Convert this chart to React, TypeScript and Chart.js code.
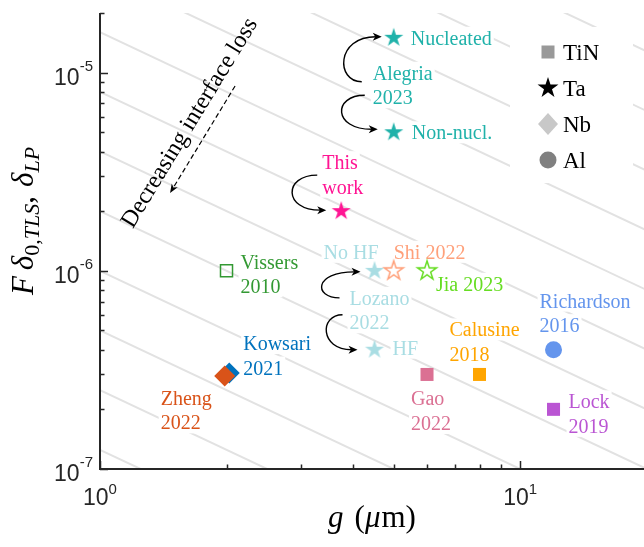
import { useEffect, useRef } from 'react';
import { Chart, registerables } from 'chart.js';

Chart.register(...registerables);

// ---------------- data ----------------
const pointNames = [
  'Nucleated', 'Non-nucl.', 'This work', 'No HF', 'HF', 'Shi 2022', 'Jia 2023',
  'Vissers 2010', 'Kowsari 2021', 'Zheng 2022', 'Gao 2022', 'Calusine 2018',
  'Richardson 2016', 'Lock 2019',
];
const gMicrons = [5, 5, 3.75, 4.5, 4.5, 5, 6, 2, 2.03, 1.98, 6, 8, 12, 12];
const lossValues = [1.5e-5, 5e-6, 2e-6, 1e-6, 4e-7, 1e-6, 1e-6, 1e-6, 3.05e-7, 2.95e-7, 3e-7, 3e-7, 4e-7, 2e-7];
const materials = ['Ta', 'Ta', 'Ta', 'Ta', 'Ta', 'Ta', 'Ta', 'TiN', 'Nb', 'Nb', 'TiN', 'TiN', 'Al', 'TiN'];
const hollowMarkers = [false, false, false, false, false, true, true, true, false, false, false, false, false, false];
const legendMaterials = ['TiN', 'Ta', 'Nb', 'Al'];
const guideLevels = [1.25e-7, 2.5e-7, 5e-7, 1e-6, 2e-6, 4e-6, 8e-6, 1.6e-5, 3.2e-5, 6.4e-5, 1.28e-4, 2.56e-4];
const xTickValues = [1, 10];
const xTickExponents = ['0', '1'];
const yTickValues = [1e-7, 1e-6, 1e-5];
const yTickExponents = ['-7', '-6', '-5'];
const X_MIN = 1;
const X_MAX = 19.7;
const Y_MIN = 1e-7;
const Y_MAX = 2e-5;

const trendText = 'Decreasing interface loss';
const trendFrom = { g: 2.096, v: 8.56e-6 };
const trendTo = { g: 1.468, v: 2.47e-6 };
const trendTextAt = { g: 1.637, v: 5.57e-6 };

// ---------------- styles / layout ----------------
const SERIF = '"Liberation Serif", "Times New Roman", serif';
const SANS = '"Liberation Sans", Arial, sans-serif';
const pointColors = [
  '#20b2aa', '#20b2aa', '#ff1493', '#a9dde3', '#a9dde3', '#ffa07a', '#66dd22',
  '#339933', '#0072bd', '#d95319', '#db7093', '#ffa500', '#6495ed', '#ba55d3',
];
const legendColors: Record<string, string> = { TiN: '#999999', Ta: '#000000', Nb: '#c8c8c8', Al: '#808080' };

const textLabels = [
  { at: 0, lines: ['Nucleated'], dx: 17, dy: 0, color: '#20b2aa' },
  { at: 1, lines: ['Non-nucl.'], dx: 18, dy: 0, color: '#20b2aa' },
  { at: 0, lines: ['Alegria', '2023'], dx: -21, dy: 35, color: '#20b2aa' },
  { at: 2, lines: ['This', 'work'], dx: -19, dy: -49, color: '#ff1493' },
  { at: 3, lines: ['No HF'], dx: -51, dy: -19, color: '#a9dde3' },
  { at: 4, lines: ['HF'], dx: 18, dy: -2, color: '#a9dde3' },
  { at: 3, lines: ['Lozano', '2022'], dx: -25, dy: 27, color: '#a9dde3' },
  { at: 5, lines: ['Shi 2022'], dx: 0, dy: -19, color: '#ffa07a' },
  { at: 6, lines: ['Jia 2023'], dx: 9, dy: 13, color: '#66dd22' },
  { at: 7, lines: ['Vissers', '2010'], dx: 14, dy: -9, color: '#339933' },
  { at: 8, lines: ['Kowsari', '2021'], dx: 14, dy: -30, color: '#0072bd' },
  { at: 9, lines: ['Zheng', '2022'], dx: -64, dy: 22, color: '#d95319' },
  { at: 10, lines: ['Gao', '2022'], dx: -16, dy: 24, color: '#db7093' },
  { at: 11, lines: ['Calusine', '2018'], dx: -30, dy: -45, color: '#ffa500' },
  { at: 12, lines: ['Richardson', '2016'], dx: -14, dy: -49, color: '#6495ed' },
  { at: 13, lines: ['Lock', '2019'], dx: 15, dy: -8, color: '#ba55d3' },
];

const curvedArrows = [
  { to: 0, from: [-32, 44], tip: [-12, -1], bulge: 26 },
  { to: 1, from: [-29, -37], tip: [-16, -3], bulge: 32 },
  { to: 2, from: [-24, -36], tip: [-15, -1], bulge: 34 },
  { to: 3, from: [-35, 27], tip: [-14, 1], bulge: 26 },
  { to: 4, from: [-32, -35], tip: [-17, 0], bulge: 23 },
];

// ---------------- helpers ----------------
function tracePentagram(g: CanvasRenderingContext2D, cx: number, cy: number, R: number) {
  g.beginPath();
  for (let i = 0; i < 10; i++) {
    const r = i % 2 === 0 ? R : R * 0.382;
    const a = -Math.PI / 2 + (i * Math.PI) / 5;
    const x = cx + r * Math.cos(a);
    const y = cy + r * Math.sin(a);
    if (i === 0) g.moveTo(x, y);
    else g.lineTo(x, y);
  }
  g.closePath();
}

function makeStar(color: string, filled: boolean, R: number) {
  const size = Math.round(2 * R + 6);
  const c = document.createElement('canvas');
  c.width = size;
  c.height = size;
  const g = c.getContext('2d')!;
  tracePentagram(g, size / 2, size / 2, R);
  if (filled) {
    g.fillStyle = color;
    g.fill();
  } else {
    g.strokeStyle = color;
    g.lineWidth = 1.5;
    g.lineJoin = 'miter';
    g.stroke();
  }
  return c;
}

function datasetFor(i: number) {
  const mat = materials[i];
  const color = pointColors[i];
  const hollow = hollowMarkers[i];
  const base: any = {
    type: 'scatter',
    label: pointNames[i],
    data: [{ x: gMicrons[i], y: lossValues[i] }],
    order: mat === 'Nb' && i === 8 ? 0.5 : 0,
    borderColor: color,
    backgroundColor: hollow ? 'rgba(0,0,0,0)' : color,
    borderWidth: hollow ? 1.5 : 0,
  };
  if (mat === 'Ta') {
    base.pointStyle = makeStar(color, !hollow, 10);
    base.pointRadius = 10;
  } else if (mat === 'TiN') {
    base.pointStyle = 'rect';
    base.pointRadius = hollow ? 8.5 : 9.2;
  } else if (mat === 'Nb') {
    base.pointStyle = 'rectRot';
    base.pointRadius = 10.5;
  } else {
    base.pointStyle = 'circle';
    base.pointRadius = 8.5;
  }
  return base;
}

type Piece = { t?: string; font?: string; dy?: number; gap?: number };
function piecesWidth(ctx: CanvasRenderingContext2D, pieces: Piece[]) {
  let w = 0;
  for (const p of pieces) {
    if (p.gap) w += p.gap;
    else {
      ctx.font = p.font!;
      w += ctx.measureText(p.t!).width;
    }
  }
  return w;
}
function drawPieces(ctx: CanvasRenderingContext2D, pieces: Piece[], x0: number, base: number) {
  let x = x0;
  for (const p of pieces) {
    if (p.gap) {
      x += p.gap;
      continue;
    }
    ctx.font = p.font!;
    ctx.fillText(p.t!, x, base + (p.dy || 0));
    x += ctx.measureText(p.t!).width;
  }
}

function arrowHead(ctx: CanvasRenderingContext2D, tx: number, ty: number, dx: number, dy: number, len: number, half: number) {
  const L = Math.hypot(dx, dy);
  const ux = dx / L;
  const uy = dy / L;
  const nx = -uy;
  const ny = ux;
  ctx.beginPath();
  ctx.moveTo(tx, ty);
  ctx.lineTo(tx - ux * len + nx * half, ty - uy * len + ny * half);
  ctx.lineTo(tx - ux * len * 0.72, ty - uy * len * 0.72);
  ctx.lineTo(tx - ux * len - nx * half, ty - uy * len - ny * half);
  ctx.closePath();
  ctx.fill();
}

function powerLabel(ctx: CanvasRenderingContext2D, exp: string, x: number, base: number, supBase: number, align: 'right' | 'center') {
  ctx.font = `23px ${SANS}`;
  const wb = ctx.measureText('10').width;
  ctx.font = `15px ${SANS}`;
  const we = ctx.measureText(exp).width;
  const total = wb + we;
  const x0 = align === 'right' ? x - total : x - total / 2;
  ctx.textAlign = 'left';
  ctx.textBaseline = 'alphabetic';
  ctx.font = `23px ${SANS}`;
  ctx.fillText('10', x0, base);
  ctx.font = `15px ${SANS}`;
  ctx.fillText(exp, x0 + wb, supBase);
}

const decorPlugin = {
  id: 'decor',
  afterDatasetDraw(chart: any, args: any) {
    if (args.index !== pointNames.length) return;
    const ctx: CanvasRenderingContext2D = chart.ctx;
    const xs = chart.scales.x;
    const ys = chart.scales.y;
    const area = chart.chartArea;
    ctx.save();
    // data labels with white background
    ctx.textBaseline = 'alphabetic';
    ctx.textAlign = 'left';
    ctx.font = `20px ${SERIF}`;
    for (const lab of textLabels) {
      const bx = xs.getPixelForValue(gMicrons[lab.at]) + lab.dx;
      const by = ys.getPixelForValue(lossValues[lab.at]) + lab.dy;
      lab.lines.forEach((line, k) => {
        const cy = by + k * 24.5;
        const w = ctx.measureText(line).width;
        ctx.fillStyle = '#ffffff';
        ctx.fillRect(bx - 2, cy - 11, w + 4, 22);
        ctx.fillStyle = lab.color;
        ctx.fillText(line, bx, cy + 7);
      });
    }
    // legend box
    const lx = area.left + 410;
    const ly = area.top + 14;
    ctx.fillStyle = '#ffffff';
    ctx.fillRect(lx, ly, 123, 156);
    const mx = area.left + 448;
    legendMaterials.forEach((m, k) => {
      const cy = area.top + 39 + k * 36;
      ctx.fillStyle = legendColors[m];
      if (m === 'TiN') ctx.fillRect(mx - 6.5, cy - 6.5, 13, 13);
      else if (m === 'Ta') {
        tracePentagram(ctx, mx, cy, 11);
        ctx.fill();
      } else if (m === 'Nb') {
        ctx.beginPath();
        ctx.moveTo(mx, cy - 11);
        ctx.lineTo(mx + 10, cy);
        ctx.lineTo(mx, cy + 11);
        ctx.lineTo(mx - 10, cy);
        ctx.closePath();
        ctx.fill();
      } else {
        ctx.beginPath();
        ctx.arc(mx, cy, 8.5, 0, Math.PI * 2);
        ctx.fill();
      }
      ctx.fillStyle = '#000000';
      ctx.font = `23px ${SERIF}`;
      ctx.fillText(m, mx + 15, cy + 8);
    });
    ctx.restore();
  },
  afterDatasetsDraw(chart: any) {
    const ctx: CanvasRenderingContext2D = chart.ctx;
    const xs = chart.scales.x;
    const ys = chart.scales.y;
    const area = chart.chartArea;
    ctx.save();
    // curved arrows
    ctx.strokeStyle = '#000000';
    ctx.fillStyle = '#000000';
    ctx.lineWidth = 1.4;
    for (const a of curvedArrows) {
      const px = xs.getPixelForValue(gMicrons[a.to]);
      const py = ys.getPixelForValue(lossValues[a.to]);
      const x0 = px + a.from[0];
      const y0 = py + a.from[1];
      const x3 = px + a.tip[0];
      const y3 = py + a.tip[1];
      const mxp = Math.min(x0, x3) - a.bulge;
      ctx.beginPath();
      ctx.moveTo(x0, y0);
      ctx.bezierCurveTo(mxp, y0, mxp, y3, x3 - 6, y3);
      ctx.stroke();
      arrowHead(ctx, x3, y3, 1, 0, 9, 4);
    }
    // trend arrow
    const ax0 = xs.getPixelForValue(trendFrom.g);
    const ay0 = ys.getPixelForValue(trendFrom.v);
    const ax1 = xs.getPixelForValue(trendTo.g);
    const ay1 = ys.getPixelForValue(trendTo.v);
    const ddx = ax1 - ax0;
    const ddy = ay1 - ay0;
    const dl = Math.hypot(ddx, ddy);
    ctx.lineWidth = 1.2;
    ctx.setLineDash([5, 3]);
    ctx.beginPath();
    ctx.moveTo(ax0, ay0);
    ctx.lineTo(ax1 - (ddx / dl) * 6, ay1 - (ddy / dl) * 6);
    ctx.stroke();
    ctx.setLineDash([]);
    arrowHead(ctx, ax1, ay1, ddx, ddy, 9, 3.5);
    const ang = Math.atan2(-ddy, -ddx);
    ctx.save();
    ctx.translate(xs.getPixelForValue(trendTextAt.g), ys.getPixelForValue(trendTextAt.v));
    ctx.rotate(ang);
    ctx.font = `24px ${SERIF}`;
    ctx.textAlign = 'center';
    ctx.textBaseline = 'middle';
    ctx.fillText(trendText, 0, 0);
    ctx.restore();

    // axes
    ctx.strokeStyle = '#262626';
    ctx.lineWidth = 2;
    ctx.beginPath();
    ctx.moveTo(area.left, area.top);
    ctx.lineTo(area.left, area.bottom);
    ctx.lineTo(area.right, area.bottom);
    ctx.stroke();
    ctx.lineWidth = 1.5;
    ctx.beginPath();
    for (let e = -7; e <= -5; e++) {
      for (let k = 1; k <= 9; k++) {
        const v = k * Math.pow(10, e);
        if (v < Y_MIN * 0.999 || v > Y_MAX * 1.001) continue;
        const y = Math.round(ys.getPixelForValue(v)) + 0.5;
        const len = k === 1 ? 8 : 4.5;
        ctx.moveTo(area.left, y);
        ctx.lineTo(area.left + len, y);
      }
    }
    for (let e = 0; e <= 1; e++) {
      for (let k = 1; k <= 9; k++) {
        const v = k * Math.pow(10, e);
        if (v < X_MIN * 0.999 || v > X_MAX * 1.001) continue;
        const x = Math.round(xs.getPixelForValue(v)) + 0.5;
        const len = k === 1 ? 8 : 4.5;
        ctx.moveTo(x, area.bottom);
        ctx.lineTo(x, area.bottom - len);
      }
    }
    ctx.stroke();

    // tick labels
    ctx.fillStyle = '#262626';
    yTickValues.forEach((v, i) => {
      const y = ys.getPixelForValue(v);
      powerLabel(ctx, yTickExponents[i], area.left - 7, y + 12, y - 2, 'right');
    });
    xTickValues.forEach((v, i) => {
      const x = xs.getPixelForValue(v);
      powerLabel(ctx, xTickExponents[i], x, area.bottom + 36, area.bottom + 25, 'center');
    });

    // axis titles
    ctx.fillStyle = '#000000';
    ctx.textAlign = 'left';
    ctx.textBaseline = 'alphabetic';
    const it = (s: number) => `italic ${s}px ${SERIF}`;
    const up = (s: number) => `${s}px ${SERIF}`;
    const xPieces: Piece[] = [
      { t: 'g', font: it(31) }, { gap: 11 }, { t: '(', font: up(31) }, { t: 'μ', font: it(31) },
      { gap: 1 }, { t: 'm', font: up(31) }, { t: ')', font: up(31) },
    ];
    const xw = piecesWidth(ctx, xPieces);
    drawPieces(ctx, xPieces, (area.left + area.right) / 2 - xw / 2, area.bottom + 58);

    const yPieces: Piece[] = [
      { t: 'F', font: it(31) }, { gap: 6 }, { t: 'δ', font: it(31) }, { t: '0,', font: up(22), dy: 6 },
      { t: 'TLS', font: it(22), dy: 6 }, { t: ',', font: up(31) }, { gap: 9 }, { t: 'δ', font: it(31) },
      { t: 'LP', font: it(22), dy: 6 },
    ];
    const yw = piecesWidth(ctx, yPieces);
    ctx.save();
    ctx.translate(33, 221);
    ctx.rotate(-Math.PI / 2);
    drawPieces(ctx, yPieces, -yw / 2, 0);
    ctx.restore();

    ctx.restore();
  },
};

export default function App() {
  const ref = useRef<HTMLCanvasElement>(null);
  useEffect(() => {
    const canvas = ref.current;
    if (!canvas) return;
    const datasets: any[] = pointNames.map((_, i) => datasetFor(i));
    guideLevels.forEach((c) => {
      datasets.push({
        type: 'line',
        label: 'guide',
        data: [
          { x: X_MIN, y: c / X_MIN },
          { x: 20, y: c / 20 },
        ],
        borderColor: '#e2e2e2',
        borderWidth: 2,
        pointRadius: 0,
        order: 1,
      });
    });
    const chart = new Chart(canvas, {
      type: 'scatter',
      data: { datasets },
      options: {
        animation: false,
        responsive: false,
        events: [],
        layout: { autoPadding: false, padding: { left: 100, top: 13, right: 0, bottom: 78 } },
        plugins: { legend: { display: false }, tooltip: { enabled: false } },
        scales: {
          x: { type: 'logarithmic', min: X_MIN, max: X_MAX, display: false },
          y: { type: 'logarithmic', min: Y_MIN, max: Y_MAX, display: false },
        },
      },
      plugins: [decorPlugin],
    } as any);
    return () => chart.destroy();
  }, []);
  return (
    <div style={{ position: 'fixed', left: 0, top: 0, width: 644, height: 547, background: '#ffffff' }}>
      <canvas ref={ref} width={644} height={547} style={{ display: 'block', width: 644, height: 547 }} />
    </div>
  );
}
